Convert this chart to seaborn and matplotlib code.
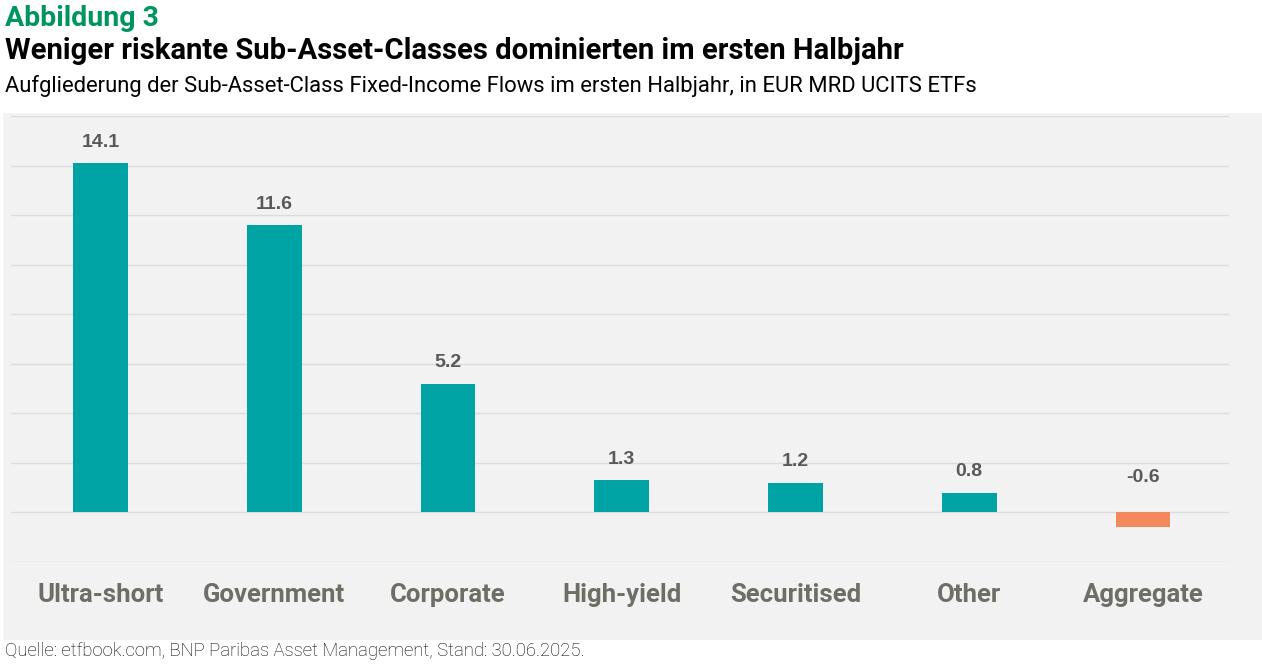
import matplotlib
matplotlib.use("Agg")
import matplotlib.pyplot as plt
import seaborn as sns
import pandas as pd
from matplotlib.patches import Rectangle

categories = ["Ultra-short", "Government", "Corporate", "High-yield", "Securitised", "Other", "Aggregate"]
values = [14.1, 11.6, 5.2, 1.3, 1.2, 0.8, -0.6]
labels = ["14.1", "11.6", "5.2", "1.3", "1.2", "0.8", "-0.6"]

TEAL = "#00A3A4"
ORANGE = "#F2895C"
colors = [TEAL if v >= 0 else ORANGE for v in values]

sns.set_theme(style="white")
plt.rcParams["font.family"] = ["Roboto", "DejaVu Sans"]

W, H = 1262, 664
fig = plt.figure(figsize=(W / 100, H / 100), dpi=100)
fig.patch.set_facecolor("white")

# gray panel
fig.add_artist(Rectangle((3 / W, (H - 640) / H), (1262 - 3) / W, (640 - 113) / H,
                         transform=fig.transFigure, facecolor="#F2F2F2", edgecolor="none", zorder=0))

ax = fig.add_axes([11 / W, (H - 562) / H, (1229 - 11) / W, (562 - 116) / H])
ax.set_facecolor("none")

df = pd.DataFrame({"cat": categories, "val": values})
sns.barplot(data=df, x="cat", y="val", hue="cat", palette=colors, legend=False,
            width=0.316, ax=ax, saturation=1, zorder=3, linewidth=0)

ax.set_xlim(-0.515, 6.495)
ax.set_ylim(-2, 16)
ax.set_yticks(range(-2, 17, 2))
ax.yaxis.grid(True, color="#DCDCDC", linewidth=1)
ax.set_axisbelow(True)
ax.tick_params(axis="y", left=False, labelleft=False)
ax.tick_params(axis="x", bottom=False, pad=9, labelsize=18.5, labelcolor="#6E6E66")
for lbl in ax.get_xticklabels():
    lbl.set_fontweight("semibold")
ax.set_xlabel("")
ax.set_ylabel("")
for s in ax.spines.values():
    s.set_visible(False)

for i, (v, t) in enumerate(zip(values, labels)):
    base = max(v, 0)
    off = 15 if v >= 0 else 25.5
    ax.annotate(t, (i, base), xytext=(0, off), textcoords="offset points",
                ha="center", va="center", fontsize=14, color="#595959",
                fontweight="bold", family=["Liberation Sans", "DejaVu Sans"])

fig.text(5 / W, 1 - 18 / H, "Abbildung 3", fontsize=20.5, fontweight="bold", color="#00955F",
         ha="left", va="center")
fig.text(5 / W, 1 - 51 / H, "Weniger riskante Sub-Asset-Classes dominierten im ersten Halbjahr",
         fontsize=21.1, fontweight="bold", color="black", ha="left", va="center")
fig.text(5 / W, 1 - 86 / H,
         "Aufgliederung der Sub-Asset-Class Fixed-Income Flows im ersten Halbjahr, in EUR MRD UCITS ETFs",
         fontsize=15.8, color="black", ha="left", va="center")
fig.text(5 / W, 1 - 651 / H, "Quelle: etfbook.com, BNP Paribas Asset Management, Stand: 30.06.2025.",
         fontsize=13.3, color="black", ha="left", va="center", fontweight="light")

fig.savefig("out.png", dpi=100)
